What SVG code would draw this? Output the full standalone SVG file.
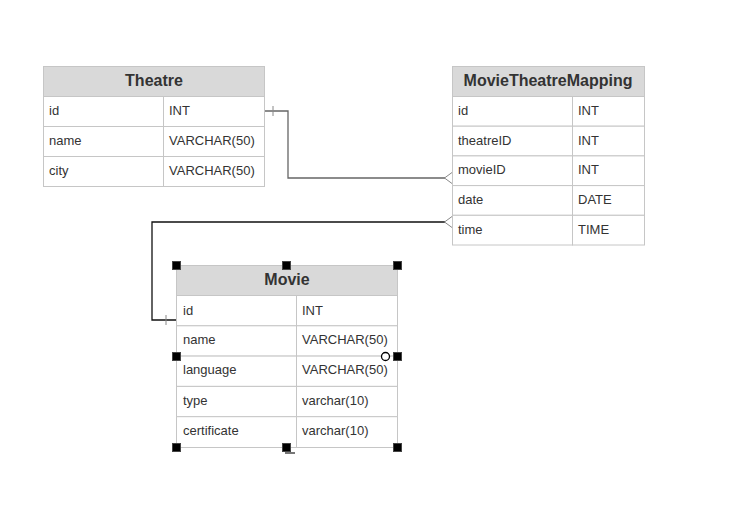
<svg xmlns="http://www.w3.org/2000/svg" width="733" height="528" viewBox="0 0 733 528">
<style>
.hdr{fill:#d9d9d9;stroke:#c6c6c6;stroke-width:1}
.cell{fill:#ffffff;stroke:#c6c6c6;stroke-width:1}
.ht{font-family:"Liberation Sans",Arial,sans-serif;font-size:16px;font-weight:bold;fill:#333333;text-anchor:middle}
.rt{font-family:"Liberation Sans",Arial,sans-serif;font-size:13px;fill:#333333}
.edge{fill:none;stroke-width:1.3}
.foot{fill:none;stroke:#888888;stroke-width:1}
.h{fill:#000000;stroke:#444444;stroke-width:1}
</style>
<rect width="733" height="528" fill="#ffffff"/>
<g id="connectors">
  <path class="edge" stroke="#666666" d="M264,111 H288 V178 H445"/>
  <path class="foot" d="M273,106 V116"/>
  <path class="foot" d="M452,172.5 L444.5,178 L452,183.5"/>
  <path class="edge" stroke="#111111" d="M445,222 H152 V320 H176"/>
  <path class="foot" d="M166,315 V325"/>
  <path class="foot" d="M452,216.5 L444.5,222 L452,227.5"/>
</g>
<g id="theatre">
  <rect class="hdr" x="43.5" y="66.5" width="221" height="30"/>
  <text class="ht" x="154" y="86">Theatre</text>
  <rect class="cell" x="43.5" y="96.5" width="120" height="30"/>
  <rect class="cell" x="163.5" y="96.5" width="101" height="30"/>
  <rect class="cell" x="43.5" y="126.5" width="120" height="30"/>
  <rect class="cell" x="163.5" y="126.5" width="101" height="30"/>
  <rect class="cell" x="43.5" y="156.5" width="120" height="30"/>
  <rect class="cell" x="163.5" y="156.5" width="101" height="30"/>
  <text class="rt" x="49" y="115">id</text><text class="rt" x="169" y="115">INT</text>
  <text class="rt" x="49" y="145">name</text><text class="rt" x="169" y="145">VARCHAR(50)</text>
  <text class="rt" x="49" y="175">city</text><text class="rt" x="169" y="175">VARCHAR(50)</text>
</g>
<g id="movietheatremapping">
  <rect class="hdr" x="452.5" y="66.5" width="192" height="30"/>
  <text class="ht" x="548" y="86">MovieTheatreMapping</text>
  <rect class="cell" x="452.5" y="96.5" width="120" height="29.7"/>
  <rect class="cell" x="572.5" y="96.5" width="72" height="29.7"/>
  <rect class="cell" x="452.5" y="126.2" width="120" height="29.7"/>
  <rect class="cell" x="572.5" y="126.2" width="72" height="29.7"/>
  <rect class="cell" x="452.5" y="155.9" width="120" height="29.7"/>
  <rect class="cell" x="572.5" y="155.9" width="72" height="29.7"/>
  <rect class="cell" x="452.5" y="185.6" width="120" height="29.7"/>
  <rect class="cell" x="572.5" y="185.6" width="72" height="29.7"/>
  <rect class="cell" x="452.5" y="215.3" width="120" height="29.7"/>
  <rect class="cell" x="572.5" y="215.3" width="72" height="29.7"/>
  <text class="rt" x="458" y="115">id</text><text class="rt" x="578" y="115">INT</text>
  <text class="rt" x="458" y="145">theatreID</text><text class="rt" x="578" y="145">INT</text>
  <text class="rt" x="458" y="174">movieID</text><text class="rt" x="578" y="174">INT</text>
  <text class="rt" x="458" y="204">date</text><text class="rt" x="578" y="204">DATE</text>
  <text class="rt" x="458" y="234">time</text><text class="rt" x="578" y="234">TIME</text>
</g>
<g id="movie">
  <rect class="hdr" x="176.5" y="265.5" width="221" height="30"/>
  <text class="ht" x="287" y="285">Movie</text>
  <rect class="cell" x="176.5" y="295.5" width="120" height="30.3"/>
  <rect class="cell" x="296.5" y="295.5" width="101" height="30.3"/>
  <rect class="cell" x="176.5" y="325.8" width="120" height="30.3"/>
  <rect class="cell" x="296.5" y="325.8" width="101" height="30.3"/>
  <rect class="cell" x="176.5" y="356.1" width="120" height="30.3"/>
  <rect class="cell" x="296.5" y="356.1" width="101" height="30.3"/>
  <rect class="cell" x="176.5" y="386.4" width="120" height="30.3"/>
  <rect class="cell" x="296.5" y="386.4" width="101" height="30.3"/>
  <rect class="cell" x="176.5" y="416.7" width="120" height="30.8"/>
  <rect class="cell" x="296.5" y="416.7" width="101" height="30.8"/>
  <text class="rt" x="183" y="315">id</text><text class="rt" x="302" y="315">INT</text>
  <text class="rt" x="183" y="344">name</text><text class="rt" x="302" y="344">VARCHAR(50)</text>
  <text class="rt" x="183" y="374">language</text><text class="rt" x="302" y="374">VARCHAR(50)</text>
  <text class="rt" x="183" y="405">type</text><text class="rt" x="302" y="405">varchar(10)</text>
  <text class="rt" x="183" y="435">certificate</text><text class="rt" x="302" y="435">varchar(10)</text>
</g>
<g id="selection">
  <rect class="h" x="172.5" y="261.5" width="8" height="8"/>
  <rect class="h" x="282.5" y="261.5" width="8" height="8"/>
  <rect class="h" x="393.5" y="261.5" width="8" height="8"/>
  <rect class="h" x="172.5" y="352.5" width="8" height="8"/>
  <rect class="h" x="393.5" y="352.5" width="8" height="8"/>
  <rect class="h" x="172.5" y="443.5" width="8" height="8"/>
  <rect x="285" y="452" width="10" height="2" fill="#777777"/>
  <rect class="h" x="282.5" y="443.5" width="8" height="8"/>
  <rect class="h" x="393.5" y="443.5" width="8" height="8"/>
  <circle cx="385.5" cy="356.5" r="4" fill="#ffffff" stroke="#000000" stroke-width="1.3"/>
</g>
</svg>
